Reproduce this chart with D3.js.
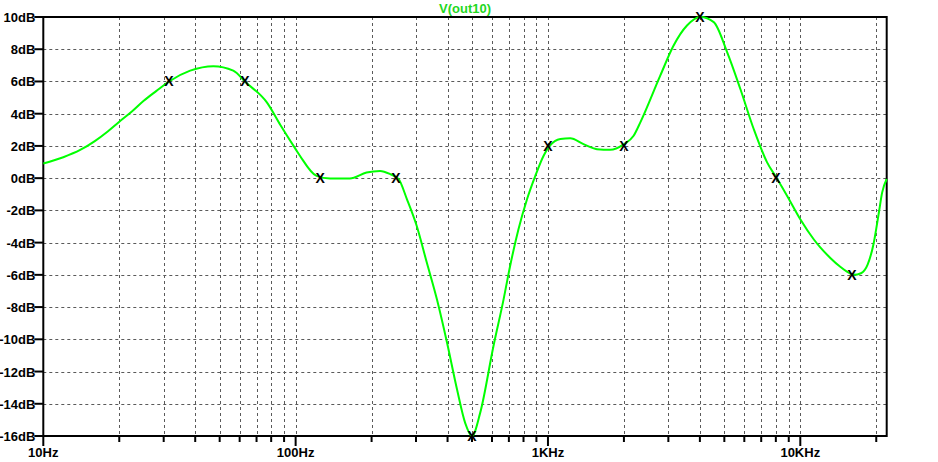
<!DOCTYPE html>
<html>
<head>
<meta charset="utf-8">
<script src="https://cdn.jsdelivr.net/npm/d3@7"></script>
<style>
  body { margin: 0; background: #ffffff; }
  svg { display: block; }
  text { font-family: "Liberation Sans", Arial, sans-serif; font-weight: bold; font-size: 13px; }
</style>
</head>
<body>
<svg id="canvas" width="938" height="462"></svg>
<script>
// frequency response (Hz, dB)
let freqHz = [10, 12, 14, 16, 18, 20, 22.5, 25, 28, 31.5, 38.2, 47.2, 56.6, 63.4, 76.9, 87, 100, 104,
  121, 137, 164, 191, 216, 237, 256, 276, 302, 331, 363, 398, 436, 470, 500, 539, 608, 667, 708,
  764, 826, 891, 961, 1016, 1120, 1225, 1383, 1563, 1766, 1995, 2185, 2323, 2786, 3147, 3556,
  4018, 4539, 5128, 5787, 6537, 7386, 8035, 8871, 10000, 11300, 12000, 13150, 14400, 15300,
  16300, 17400, 18500, 19500, 20500, 21100, 22000];
let gainDb = [0.91, 1.3, 1.75, 2.3, 2.9, 3.5, 4.15, 4.8, 5.4, 6.0, 6.67, 6.95, 6.67, 5.95, 4.7, 3.3, 1.8, 1.39,
  0.14, -0.02, -0.02, 0.35, 0.45, 0.25, -0.06, -1.3, -2.97, -5.24, -7.52, -10.2, -13.1, -15.2, -16,
  -14.55, -10.43, -7.52, -5.45, -3.17, -1.31, 0.14, 1.39, 2.0, 2.43, 2.47, 2.11, 1.8, 1.76, 2.1,
  2.63, 3.46, 6.36, 8.23, 9.47, 10.0, 9.68, 7.82, 5.53, 3.05, 0.98, 0.04, -1.1, -2.55, -3.79,
  -4.3, -4.95, -5.5, -5.8, -6.0, -5.9, -5.35, -4.1, -2.1, -0.9, -0.05];

// EQ band markers
let markerFreqs = [31.5, 63, 125, 250, 500, 1000, 2000, 4000, 8000, 16000];
let markerGains = [6, 6, 0, 0, -16, 2, 2, 10, 0, -6];

let yTicks = [10, 8, 6, 4, 2, 0, -2, -4, -6, -8, -10, -12, -14, -16];
let xMajorTicks = [10, 100, 1000, 10000];
let xMajorLabels = ["10Hz", "100Hz", "1KHz", "10KHz"];
let xMinorTicks = [20, 30, 40, 50, 60, 70, 80, 90, 200, 300, 400, 500, 600, 700, 800, 900,
  2000, 3000, 4000, 5000, 6000, 7000, 8000, 9000, 20000];

let traceName = "V(out10)";

let canvas = d3.select("#canvas");

let plotLeft = 43.3, plotRight = 886.7, plotTop = 17, plotBottom = 436;

let xScale = d3.scaleLog().domain([10, 22000]).range([plotLeft, plotRight]);
let yScale = d3.scaleLinear().domain([-16, 10]).range([plotBottom, plotTop]);

let gridColor = "#5a5a5a";

// horizontal grid
canvas.append("g")
  .selectAll("line")
  .data(yTicks.filter((t) => t !== 10 && t !== -16))
  .enter()
  .append("line")
  .attr("x1", plotLeft).attr("x2", plotRight)
  .attr("y1", (t) => Math.round(yScale(t)) + 0.5).attr("y2", (t) => Math.round(yScale(t)) + 0.5)
  .attr("stroke", gridColor)
  .attr("stroke-width", 1)
  .attr("stroke-dasharray", "3,3");

// vertical grid
canvas.append("g")
  .selectAll("line")
  .data(xMajorTicks.slice(1).concat(xMinorTicks))
  .enter()
  .append("line")
  .attr("x1", (f) => Math.round(xScale(f)) + 0.5).attr("x2", (f) => Math.round(xScale(f)) + 0.5)
  .attr("y1", plotTop).attr("y2", plotBottom)
  .attr("stroke", gridColor)
  .attr("stroke-width", 1)
  .attr("stroke-dasharray", "3,3");

// frame
canvas.append("rect")
  .attr("x", plotLeft).attr("y", plotTop)
  .attr("width", plotRight - plotLeft).attr("height", plotBottom - plotTop)
  .attr("fill", "none")
  .attr("stroke", "#000")
  .attr("stroke-width", 2);

// y ticks + labels
let yAxis = canvas.append("g");
yAxis.selectAll("line")
  .data(yTicks)
  .enter()
  .append("line")
  .attr("x1", plotLeft - 9).attr("x2", plotLeft)
  .attr("y1", (t) => yScale(t)).attr("y2", (t) => yScale(t))
  .attr("stroke", "#000")
  .attr("stroke-width", 2);
yAxis.selectAll("text")
  .data(yTicks)
  .enter()
  .append("text")
  .attr("x", plotLeft - 8)
  .attr("y", (t) => yScale(t) + 5)
  .attr("text-anchor", "end")
  .attr("fill", "#000")
  .text((t) => t + "dB");

// x ticks + labels
let xAxis = canvas.append("g");
xAxis.selectAll("line.minor")
  .data(xMinorTicks)
  .enter()
  .append("line")
  .attr("class", "minor")
  .attr("x1", (f) => xScale(f)).attr("x2", (f) => xScale(f))
  .attr("y1", plotBottom).attr("y2", plotBottom + 6)
  .attr("stroke", "#000")
  .attr("stroke-width", 2);
xAxis.selectAll("line.major")
  .data(xMajorTicks)
  .enter()
  .append("line")
  .attr("class", "major")
  .attr("x1", (f) => xScale(f)).attr("x2", (f) => xScale(f))
  .attr("y1", plotBottom).attr("y2", plotBottom + 10)
  .attr("stroke", "#000")
  .attr("stroke-width", 2);
xAxis.selectAll("text")
  .data(xMajorTicks)
  .enter()
  .append("text")
  .attr("x", (f) => xScale(f))
  .attr("y", 457)
  .attr("text-anchor", "middle")
  .attr("fill", "#000")
  .text((f, i) => xMajorLabels[i]);

// title
canvas.append("text")
  .attr("x", (plotLeft + plotRight) / 2)
  .attr("y", 13)
  .attr("text-anchor", "middle")
  .attr("fill", "#1fd81f")
  .text(traceName);

// trace
let points = freqHz.map((f, i) => [f, gainDb[i]]);
let line = d3.line()
  .x((p) => xScale(p[0]))
  .y((p) => yScale(p[1]))
  .curve(d3.curveMonotoneX);

canvas.append("path")
  .datum(points)
  .attr("d", line)
  .attr("fill", "none")
  .attr("stroke", "#00ff00")
  .attr("stroke-width", 2);

// markers
canvas.append("g")
  .selectAll("text")
  .data(markerFreqs)
  .enter()
  .append("text")
  .attr("x", (f) => xScale(f))
  .attr("y", (f, i) => yScale(markerGains[i]) + 5)
  .attr("text-anchor", "middle")
  .attr("fill", "#000")
  .style("font-size", "14px")
  .text("X");
</script>
</body>
</html>
